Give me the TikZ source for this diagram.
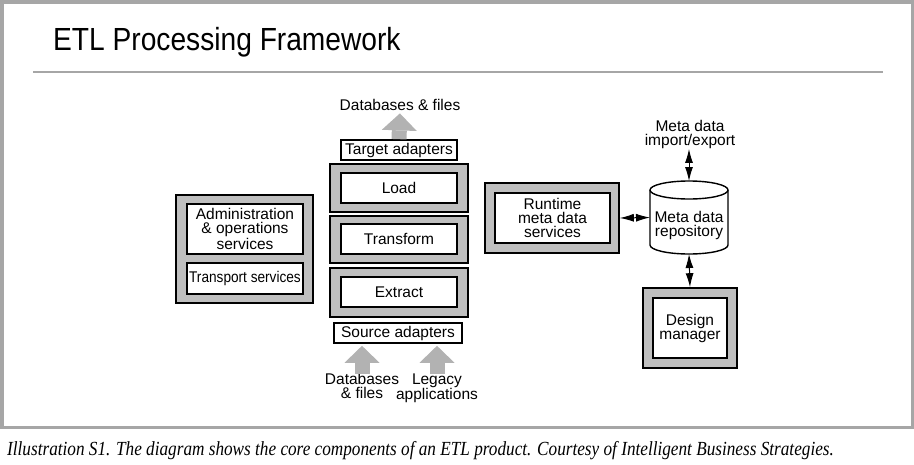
\documentclass[tikz,border=0pt]{standalone}
\usepackage{fontspec}
\setmainfont{Liberation Sans}
\newfontfamily\titlefont[FakeStretch=0.88]{Liberation Sans}
\newfontfamily\capfont[FakeStretch=0.86]{Liberation Serif}
\newcommand\boxfont{\fontsize{15.5}{14}\selectfont}
\usetikzlibrary{arrows.meta}

\begin{document}
\begin{tikzpicture}[x=1pt, y=-1pt,
    outerbox/.style={draw, line width=1.6pt, fill=gray!50, inner sep=0},
    innerbox/.style={draw, line width=1.6pt, fill=white, align=center, inner sep=0, font=\boxfont},
    lbl/.style={align=center, inner sep=0, font=\boxfont},
    blockup/.style={-{Triangle[width=35pt, length=17pt, line width=0pt]}, line width=15pt, gray!60},
    metalink/.style={{Latex[length=14pt, width=8pt]}-{Latex[length=14pt, width=8pt]}, line width=1pt}]
    \useasboundingbox (0,0) rectangle (914,464);
    \draw [gray!70, line width=3.5pt] (1.75,1.75) rectangle (912.25,427.25);
    \node [anchor=base west, inner sep=0, font=\titlefont\fontsize{32}{34}\selectfont] (title) at (53,50) {ETL Processing Framework};
    \draw [gray!70, line width=1.5pt] (33,72) -- (883,72);

    \node [outerbox, minimum width=137, minimum height=108] (admouter) at (244.5,249) {};
    \node [innerbox, minimum width=116, minimum height=50] (admin) at (245,229) {Administration\\\& operations\\services};
    \node [innerbox, minimum width=116, minimum height=31] (transport) at (245,278.5) {\scalebox{0.88}[1]{Transport services}};

    \node [innerbox, minimum width=116, minimum height=20] (target) at (399,150) {Target adapters};
    \node [outerbox, minimum width=138, minimum height=48] (loadouter) at (399,188) {};
    \node [innerbox, minimum width=116, minimum height=30] (load) at (399,188) {Load};
    \node [outerbox, minimum width=138, minimum height=47] (transformouter) at (399,239.5) {};
    \node [innerbox, minimum width=116, minimum height=30] (transform) at (399,239) {Transform};
    \node [outerbox, minimum width=138, minimum height=49] (extractouter) at (399,292.5) {};
    \node [innerbox, minimum width=116, minimum height=30] (extract) at (399,292) {Extract};
    \node [innerbox, minimum width=128, minimum height=20] (source) at (398,333) {Source adapters};
    \node [lbl] (dbout) at (400,105) {Databases \& files};
    \node [lbl, anchor=north] (dbin) at (362,373.5) {Databases\\\& files};
    \node [lbl, anchor=north] (legacy) at (437,373.5) {Legacy\\applications};
    \draw [blockup, shorten >=2.5pt] (target.north) -- (dbout.south);
    \draw [blockup, shorten >=2pt] (dbin.north) -- (dbin.north |- source.south);
    \draw [blockup, shorten >=2pt] (legacy.north) -- (legacy.north |- source.south);

    \node [outerbox, minimum width=134, minimum height=70] (rtouter) at (552,218) {};
    \node [innerbox, minimum width=115, minimum height=50] (runtime) at (552.5,218) {Runtime\\meta data\\services};
    \node [minimum width=78, minimum height=73, inner sep=0, outer sep=0] (repo) at (689,217.5) {};
    \draw [line width=1.4pt, fill=white] ([yshift=-9pt]repo.north west) -- ([yshift=9pt]repo.south west)
        arc [start angle=180, end angle=360, x radius=39pt, y radius=9pt] -- ([yshift=-9pt]repo.north east)
        arc [start angle=0, end angle=180, x radius=39pt, y radius=9pt] -- cycle;
    \draw [line width=1.4pt] ([yshift=-9pt]repo.north west) arc [start angle=180, end angle=360, x radius=39pt, y radius=9pt];
    \node [lbl] (repotext) at (689,225.5) {Meta data\\repository};
    \node [lbl] (mdio) at (690,134.5) {Meta data\\import/export};
    \node [outerbox, minimum width=94, minimum height=80] (dmouter) at (690,328) {};
    \node [innerbox, minimum width=74, minimum height=60] (design) at (690,328) {Design\\manager};
    \draw [metalink] (mdio.south -| repo.north) -- (repo.north);
    \draw [metalink] (rtouter.east) -- (repo.west);
    \draw [metalink] (repo.south) -- (dmouter.north);

    \node [anchor=base west, inner sep=0, font=\capfont\itshape\fontsize{20}{22}\selectfont] (caption) at (7,455) {Illustration S1. The diagram shows the core components of an ETL product. Courtesy of Intelligent Business Strategies.};
\end{tikzpicture}
\end{document}
